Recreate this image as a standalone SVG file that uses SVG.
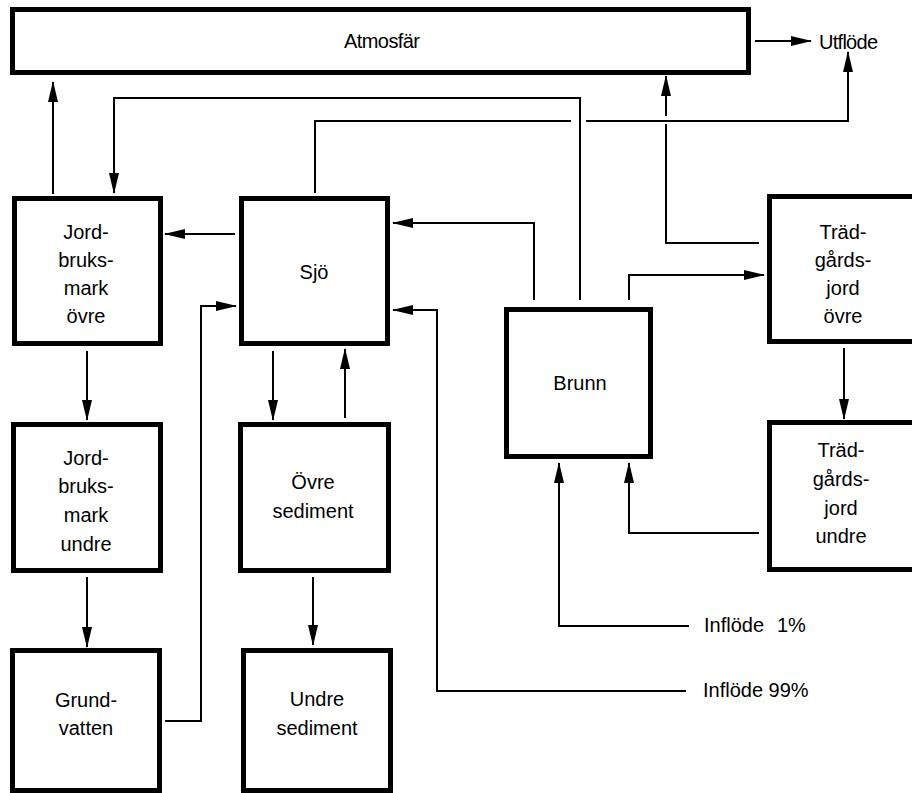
<svg xmlns="http://www.w3.org/2000/svg" width="912" height="793" viewBox="0 0 912 793">
<style>
.box{fill:#fff;stroke:#000;stroke-width:5}
.c{fill:none;stroke:#000;stroke-width:2;marker-end:url(#ah)}
.p{fill:none;stroke:#000;stroke-width:2}
text{font-family:"Liberation Sans",Arial,sans-serif;font-size:20px;fill:#000}
.m{text-anchor:middle}
</style>
<defs>
<marker id="ah" markerUnits="userSpaceOnUse" markerWidth="21" markerHeight="10" refX="20" refY="5" orient="auto">
<path d="M0,0 L21,5 L0,10 z" fill="#000"/>
</marker>
</defs>
<rect width="912" height="793" fill="#fff"/>
<g id="atmosfar"><rect class="box" x="12.5" y="9.5" width="736" height="63"/><text class="m" x="382" y="48" textLength="76">Atmosfär</text></g>
<g id="utflode"><text x="819" y="49" textLength="59">Utflöde</text></g>
<g id="jordbruk-ovre"><rect class="box" x="14.5" y="198.5" width="146" height="145"/><text class="m" x="86" y="239">Jord-</text><text class="m" x="86" y="267">bruks-</text><text class="m" x="86" y="295">mark</text><text class="m" x="86" y="323">övre</text></g>
<g id="sjo"><rect class="box" x="241.5" y="198.5" width="146" height="145"/><text class="m" x="314" y="279">Sjö</text></g>
<g id="brunn"><rect class="box" x="506.5" y="309.5" width="144" height="147"/><text class="m" x="580" y="390">Brunn</text></g>
<g id="tradgard-ovre"><rect class="box" x="769.5" y="196.5" width="150" height="145"/><text class="m" x="843" y="239">Träd-</text><text class="m" x="843" y="267">gårds-</text><text class="m" x="843" y="295">jord</text><text class="m" x="843" y="323">övre</text></g>
<g id="jordbruk-undre"><rect class="box" x="13.5" y="424.5" width="147" height="146"/><text class="m" x="86" y="465">Jord-</text><text class="m" x="86" y="493">bruks-</text><text class="m" x="86" y="522">mark</text><text class="m" x="86" y="551">undre</text></g>
<g id="ovre-sediment"><rect class="box" x="240.5" y="424.5" width="148" height="146"/><text class="m" x="313" y="489">Övre</text><text class="m" x="313" y="518">sediment</text></g>
<g id="tradgard-undre"><rect class="box" x="769.5" y="422.5" width="150" height="147"/><text class="m" x="841" y="457">Träd-</text><text class="m" x="841" y="486">gårds-</text><text class="m" x="841" y="515">jord</text><text class="m" x="841" y="543">undre</text></g>
<g id="grundvatten"><rect class="box" x="12.5" y="650.5" width="147" height="140"/><text class="m" x="86" y="707">Grund-</text><text class="m" x="86" y="735">vatten</text></g>
<g id="undre-sediment"><rect class="box" x="243.5" y="650.5" width="147" height="140"/><text class="m" x="317" y="706">Undre</text><text class="m" x="317" y="735">sediment</text></g>
<g id="inflode"><text x="704" y="632">Inflöde<tspan x="777">1%</tspan></text><text x="703" y="697">Inflöde 99%</text></g>
<g id="connectors">
<path class="c" d="M755,41 H811"/>
<path class="c" d="M53,194 V82"/>
<path class="c" d="M580,300 V98 H114 V193"/>
<path class="p" d="M315,193 V121 H571"/>
<path class="c" d="M586,121 H848 V52"/>
<path class="p" d="M759,243 H666 V124"/>
<path class="c" d="M666,116 V76"/>
<path class="c" d="M534,300 V223 H393"/>
<path class="c" d="M629,300 V275 H764"/>
<path class="c" d="M235,234 H165"/>
<path class="c" d="M165,721 H201 V306 H236"/>
<path class="c" d="M686,691 H437 V310 H393"/>
<path class="c" d="M689,626 H559 V463"/>
<path class="c" d="M759,533 H629 V463"/>
<path class="c" d="M87,351 V420"/>
<path class="c" d="M273,351 V420"/>
<path class="c" d="M345,418 V349"/>
<path class="c" d="M87,577 V647"/>
<path class="c" d="M313,577 V645"/>
<path class="c" d="M844,348 V419"/>
</g>
</svg>
